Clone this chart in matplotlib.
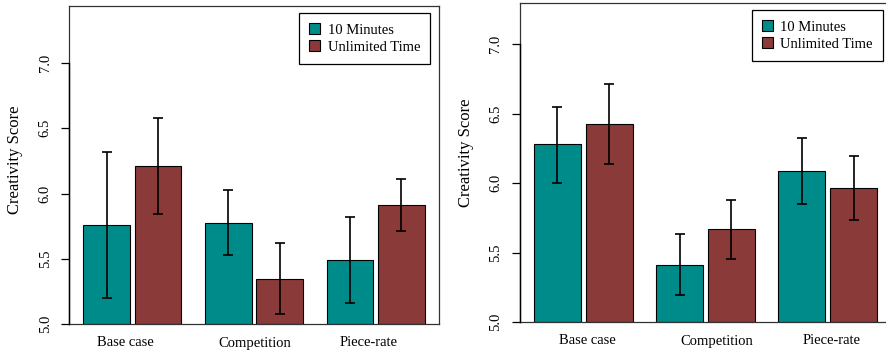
import matplotlib
matplotlib.use("Agg")
import matplotlib.pyplot as plt
from matplotlib.patches import Patch
import numpy as np

plt.rcParams['font.family'] = ['Liberation Serif', 'DejaVu Serif']

categories = ["Base case", "Competition", "Piece-rate"]
series = ["10 Minutes", "Unlimited Time"]
colors = ["#008B8B", "#8B3A3A"]

# Left panel
left_10 = [5.756, 5.774, 5.488]
left_10_lo = [5.197, 5.526, 5.161]
left_10_hi = [6.320, 6.027, 5.818]
left_un = [6.208, 5.347, 5.914]
left_un_lo = [5.840, 5.079, 5.715]
left_un_hi = [6.579, 5.618, 6.113]

# Right panel
right_10 = [6.278, 5.412, 6.084]
right_10_lo = [6.002, 5.194, 5.847]
right_10_hi = [6.549, 5.635, 6.326]
right_un = [6.427, 5.667, 5.966]
right_un_lo = [6.137, 5.453, 5.734]
right_un_hi = [6.714, 5.878, 6.196]

yticks = [5.0, 5.5, 6.0, 6.5, 7.0]
ytick_labels = ["5.0", "5.5", "6.0", "6.5", "7.0"]

W, H = 887, 350
fig = plt.figure(figsize=(W / 100, H / 100), dpi=100)


def make_axes(l, r, t, b):
    return fig.add_axes([l / W, 1 - b / H, (r - l) / W, (b - t) / H])


def panel(ax, vals10, lo10, hi10, valsU, loU, hiU, ylim_top, label_shift):
    width = 1.0
    n = len(categories)
    # R barplot layout: space = c(0.1, 0.5)
    x10 = np.array([0.5 + g * 2.6 + 0.5 for g in range(n)])
    xU = x10 + 1.1
    for xs, vals, lo, hi, col in [(x10, vals10, lo10, hi10, colors[0]),
                                  (xU, valsU, loU, hiU, colors[1])]:
        vals = np.array(vals)
        ax.bar(xs, vals - 5.0, bottom=5.0, width=width, color=col,
               edgecolor='black', linewidth=0.8, zorder=2)
        yerr = [vals - np.array(lo), np.array(hi) - vals]
        ax.errorbar(xs, vals, yerr=yerr, fmt='none', ecolor='black',
                    elinewidth=1.2, capsize=3.6, capthick=1.2, zorder=3)
    ax.set_xlim(0.208, 8.092)
    ax.set_ylim(5.0, ylim_top)
    centers = (x10 + xU) / 2 + np.array(label_shift)
    ax.set_xticks(centers)
    ax.set_xticklabels(categories, fontsize=10.5)
    ax.tick_params(axis='x', length=0, pad=9)
    ax.set_yticks(yticks)
    ax.set_yticklabels(ytick_labels, fontsize=10.5, rotation=90, va='center')
    ax.tick_params(axis='y', length=5.8, width=0.9, pad=7)
    for s in ax.spines.values():
        s.set_linewidth(0.9)
        s.set_color('#333333')
    ax.plot([0.208, 0.208], [5.0, 7.0], color='black', lw=1.0,
            clip_on=False, zorder=4, transform=ax.transData)
    ax.set_ylabel("Creativity Score", fontsize=12, va='center')
    handles = [Patch(facecolor=colors[0], edgecolor='black', linewidth=0.8),
               Patch(facecolor=colors[1], edgecolor='black', linewidth=0.8)]
    leg = ax.legend(handles, series, loc='upper right',
                    bbox_to_anchor=(0.978, 0.978), borderaxespad=0,
                    fancybox=False, framealpha=1, edgecolor='black',
                    fontsize=10.5, handlelength=0.75, handleheight=0.75,
                    handletextpad=0.5, labelspacing=0.25, borderpad=0.7)
    leg.get_frame().set_linewidth(0.9)


axL = make_axes(69.5, 438.5, 6, 324)
panel(axL, left_10, left_10_lo, left_10_hi, left_un, left_un_lo, left_un_hi,
      7.437, [-0.14, 0.01, -0.15])
axL.yaxis.set_label_coords((15 - 69.5) / 369.0, 1 - (160 - 6) / 318)

axR = make_axes(520, 891, 3, 322)
panel(axR, right_10, right_10_lo, right_10_hi, right_un, right_un_lo, right_un_hi,
      7.295, [0.08, 0.23, 0.09])
axR.yaxis.set_label_coords((466 - 520) / 371.0, 1 - (153 - 3) / 319)

fig.savefig("out.png", dpi=100)
